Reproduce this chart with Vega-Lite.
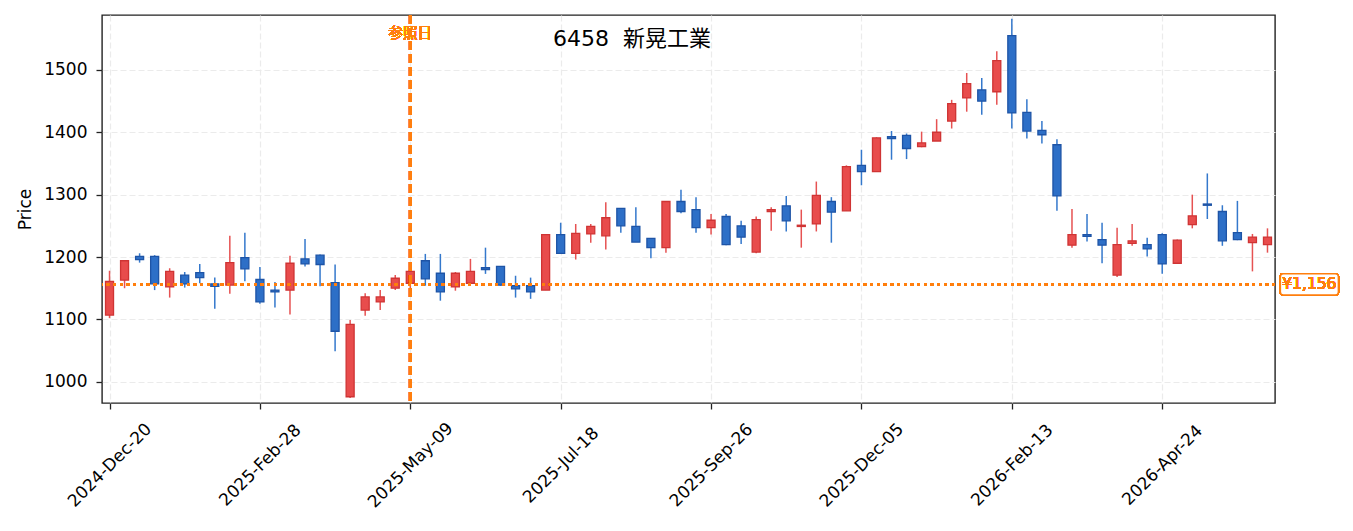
{
  "$schema": "https://vega.github.io/schema/vega-lite/v6.json",
  "width": 1173,
  "height": 388,
  "autosize": "none",
  "padding": {"left": 102, "top": 15, "right": 78, "bottom": 128},
  "background": "white",
  "config": {
    "font": "DejaVu Sans, Noto Sans CJK JP",
    "view": {"stroke": "#222222", "strokeWidth": 1.4},
    "axis": {
      "domain": false,
      "grid": true,
      "gridColor": "#ebebeb",
      "gridDash": [6, 3],
      "gridWidth": 1.2,
      "tickColor": "#222222",
      "tickSize": 6,
      "tickWidth": 1.3,
      "labelColor": "#000000",
      "labelFont": "DejaVu Sans, Noto Sans CJK JP",
      "labelFontSize": 17,
      "titleColor": "#000000",
      "titleFont": "DejaVu Sans, Noto Sans CJK JP",
      "titleFontSize": 17,
      "titleFontWeight": "normal"
    }
  },
  "title": {
    "text": "6458\u00a0\u00a0新晃工業",
    "anchor": "start",
    "frame": "group",
    "dx": 451,
    "dy": 22,
    "offset": -32,
    "baseline": "alphabetic",
    "font": "DejaVu Sans, Noto Sans CJK JP",
    "fontSize": 22,
    "fontWeight": "normal",
    "color": "#000000"
  },
  "data": {
    "values": [
      {"date": "2024-12-20", "open": 1107, "high": 1178, "low": 1102, "close": 1161},
      {"date": "2024-12-27", "open": 1163, "high": 1195, "low": 1150, "close": 1194},
      {"date": "2025-01-03", "open": 1201, "high": 1206, "low": 1191, "close": 1196},
      {"date": "2025-01-10", "open": 1201, "high": 1203, "low": 1147, "close": 1157},
      {"date": "2025-01-17", "open": 1152, "high": 1182, "low": 1135, "close": 1177},
      {"date": "2025-01-24", "open": 1171, "high": 1176, "low": 1151, "close": 1157},
      {"date": "2025-01-31", "open": 1175, "high": 1189, "low": 1158, "close": 1167},
      {"date": "2025-02-07", "open": 1157, "high": 1167, "low": 1117, "close": 1153},
      {"date": "2025-02-14", "open": 1155, "high": 1234, "low": 1141, "close": 1191},
      {"date": "2025-02-21", "open": 1199, "high": 1239, "low": 1161, "close": 1181},
      {"date": "2025-02-28", "open": 1164, "high": 1184, "low": 1125, "close": 1128},
      {"date": "2025-03-07", "open": 1147, "high": 1160, "low": 1119, "close": 1144},
      {"date": "2025-03-14", "open": 1147, "high": 1202, "low": 1108, "close": 1190},
      {"date": "2025-03-21", "open": 1197, "high": 1229, "low": 1185, "close": 1189},
      {"date": "2025-03-28", "open": 1203, "high": 1204, "low": 1153, "close": 1188},
      {"date": "2025-04-04", "open": 1159, "high": 1188, "low": 1049, "close": 1081},
      {"date": "2025-04-11", "open": 976, "high": 1099, "low": 974, "close": 1092},
      {"date": "2025-04-18", "open": 1115, "high": 1142, "low": 1106, "close": 1136},
      {"date": "2025-04-25", "open": 1128, "high": 1147, "low": 1115, "close": 1136},
      {"date": "2025-05-02", "open": 1150, "high": 1171, "low": 1147, "close": 1166},
      {"date": "2025-05-09", "open": 1158, "high": 1178, "low": 1150, "close": 1177},
      {"date": "2025-05-16", "open": 1194, "high": 1205, "low": 1154, "close": 1165},
      {"date": "2025-05-23", "open": 1174, "high": 1205, "low": 1130, "close": 1144},
      {"date": "2025-05-30", "open": 1152, "high": 1176, "low": 1146, "close": 1174},
      {"date": "2025-06-06", "open": 1158, "high": 1197, "low": 1158, "close": 1177},
      {"date": "2025-06-13", "open": 1183, "high": 1215, "low": 1173, "close": 1180},
      {"date": "2025-06-20", "open": 1185, "high": 1185, "low": 1154, "close": 1155},
      {"date": "2025-06-27", "open": 1154, "high": 1170, "low": 1135, "close": 1149},
      {"date": "2025-07-04", "open": 1154, "high": 1167, "low": 1133, "close": 1144},
      {"date": "2025-07-11", "open": 1147, "high": 1236, "low": 1147, "close": 1236},
      {"date": "2025-07-18", "open": 1236, "high": 1255, "low": 1205, "close": 1206},
      {"date": "2025-07-25", "open": 1206, "high": 1253, "low": 1196, "close": 1238},
      {"date": "2025-08-01", "open": 1237, "high": 1253, "low": 1223, "close": 1249},
      {"date": "2025-08-08", "open": 1234, "high": 1288, "low": 1212, "close": 1263},
      {"date": "2025-08-15", "open": 1278, "high": 1278, "low": 1239, "close": 1250},
      {"date": "2025-08-22", "open": 1249, "high": 1280, "low": 1224, "close": 1224},
      {"date": "2025-08-29", "open": 1230, "high": 1230, "low": 1198, "close": 1215},
      {"date": "2025-09-05", "open": 1215, "high": 1289, "low": 1207, "close": 1289},
      {"date": "2025-09-12", "open": 1289, "high": 1308, "low": 1270, "close": 1273},
      {"date": "2025-09-19", "open": 1276, "high": 1296, "low": 1239, "close": 1247},
      {"date": "2025-09-26", "open": 1247, "high": 1269, "low": 1236, "close": 1259},
      {"date": "2025-10-03", "open": 1265, "high": 1269, "low": 1219, "close": 1220},
      {"date": "2025-10-10", "open": 1250, "high": 1258, "low": 1221, "close": 1232},
      {"date": "2025-10-17", "open": 1208, "high": 1265, "low": 1206, "close": 1260},
      {"date": "2025-10-24", "open": 1273, "high": 1280, "low": 1242, "close": 1276},
      {"date": "2025-10-31", "open": 1282, "high": 1298, "low": 1241, "close": 1258},
      {"date": "2025-11-07", "open": 1249, "high": 1276, "low": 1215, "close": 1251},
      {"date": "2025-11-14", "open": 1253, "high": 1321, "low": 1241, "close": 1299},
      {"date": "2025-11-21", "open": 1289, "high": 1296, "low": 1223, "close": 1272},
      {"date": "2025-11-28", "open": 1274, "high": 1347, "low": 1274, "close": 1345},
      {"date": "2025-12-05", "open": 1347, "high": 1372, "low": 1315, "close": 1337},
      {"date": "2025-12-12", "open": 1337, "high": 1392, "low": 1337, "close": 1391},
      {"date": "2025-12-19", "open": 1393, "high": 1402, "low": 1356, "close": 1390},
      {"date": "2025-12-26", "open": 1395, "high": 1398, "low": 1357, "close": 1374},
      {"date": "2026-01-02", "open": 1377, "high": 1401, "low": 1376, "close": 1383},
      {"date": "2026-01-09", "open": 1386, "high": 1421, "low": 1386, "close": 1400},
      {"date": "2026-01-16", "open": 1418, "high": 1452, "low": 1406, "close": 1446},
      {"date": "2026-01-23", "open": 1455, "high": 1495, "low": 1433, "close": 1478},
      {"date": "2026-01-30", "open": 1468, "high": 1487, "low": 1428, "close": 1450},
      {"date": "2026-02-06", "open": 1465, "high": 1530, "low": 1444, "close": 1515},
      {"date": "2026-02-13", "open": 1555, "high": 1582, "low": 1406, "close": 1431},
      {"date": "2026-02-20", "open": 1432, "high": 1453, "low": 1390, "close": 1402},
      {"date": "2026-02-27", "open": 1403, "high": 1418, "low": 1382, "close": 1396},
      {"date": "2026-03-06", "open": 1380, "high": 1389, "low": 1274, "close": 1298},
      {"date": "2026-03-13", "open": 1219, "high": 1277, "low": 1215, "close": 1236},
      {"date": "2026-03-20", "open": 1236, "high": 1269, "low": 1225, "close": 1233},
      {"date": "2026-03-27", "open": 1228, "high": 1255, "low": 1190, "close": 1219},
      {"date": "2026-04-03", "open": 1171, "high": 1247, "low": 1168, "close": 1220},
      {"date": "2026-04-10", "open": 1222, "high": 1253, "low": 1218, "close": 1226},
      {"date": "2026-04-17", "open": 1220, "high": 1231, "low": 1201, "close": 1213},
      {"date": "2026-04-24", "open": 1236, "high": 1238, "low": 1173, "close": 1189},
      {"date": "2026-05-01", "open": 1190, "high": 1228, "low": 1190, "close": 1227},
      {"date": "2026-05-08", "open": 1252, "high": 1300, "low": 1246, "close": 1266},
      {"date": "2026-05-15", "open": 1285, "high": 1334, "low": 1261, "close": 1283},
      {"date": "2026-05-22", "open": 1273, "high": 1283, "low": 1218, "close": 1226},
      {"date": "2026-05-29", "open": 1239, "high": 1290, "low": 1227, "close": 1228},
      {"date": "2026-06-05", "open": 1223, "high": 1237, "low": 1177, "close": 1232},
      {"date": "2026-06-12", "open": 1220, "high": 1246, "low": 1207, "close": 1232}
    ]
  },
  "layer": [
    {
      "mark": {"type": "rule", "strokeWidth": 1.5},
      "encoding": {
        "x": {
          "field": "date",
          "type": "temporal",
          "title": null,
          "scale": {
            "type": "utc",
            "nice": false,
            "padding": 0,
            "domain": [
              {"year": 2024, "month": 12, "date": 16, "hours": 12, "utc": true},
              {"year": 2026, "month": 6, "date": 15, "hours": 12, "utc": true}
            ]
          },
          "axis": {
            "values": [
              {"year": 2024, "month": 12, "date": 20, "utc": true},
              {"year": 2025, "month": 2, "date": 28, "utc": true},
              {"year": 2025, "month": 5, "date": 9, "utc": true},
              {"year": 2025, "month": 7, "date": 18, "utc": true},
              {"year": 2025, "month": 9, "date": 26, "utc": true},
              {"year": 2025, "month": 12, "date": 5, "utc": true},
              {"year": 2026, "month": 2, "date": 13, "utc": true},
              {"year": 2026, "month": 4, "date": 24, "utc": true}
            ],
            "format": "%Y-%b-%d",
            "labelAngle": -45,
            "labelAlign": "center",
            "labelBaseline": "middle",
            "labelPadding": 56,
            "labelOverlap": false
          }
        },
        "y": {
          "field": "low",
          "type": "quantitative",
          "title": "Price",
          "scale": {"domain": [966, 1588], "nice": false, "zero": false, "padding": 0},
          "axis": {
            "values": [1000, 1100, 1200, 1300, 1400, 1500],
            "format": "d",
            "labelPadding": 9,
            "titlePadding": 9
          }
        },
        "y2": {"field": "high"},
        "color": {
          "condition": {"test": "datum.close >= datum.open", "value": "#e65252"},
          "value": "#3478cc"
        }
      }
    },
    {
      "mark": {"type": "bar", "size": 8, "strokeWidth": 1.3},
      "encoding": {
        "x": {"field": "date", "type": "temporal"},
        "y": {"field": "open", "type": "quantitative"},
        "y2": {"field": "close"},
        "fill": {
          "condition": {"test": "datum.close >= datum.open", "value": "#e84c4c"},
          "value": "#2d6fc7"
        },
        "stroke": {
          "condition": {"test": "datum.close >= datum.open", "value": "#cf3434"},
          "value": "#1e54a6"
        }
      }
    },
    {
      "mark": {"type": "rule", "color": "#ff7f0e", "strokeWidth": 2, "strokeDash": [2.5, 4.2]},
      "encoding": {"y": {"datum": 1156, "type": "quantitative"}}
    },
    {
      "mark": {"type": "rule", "color": "#ff7f0e", "strokeWidth": 2.6, "strokeDash": [9, 4]},
      "encoding": {"x": {"datum": {"year": 2025, "month": 5, "date": 9, "utc": true}, "type": "temporal"}}
    },
    {
      "mark": {"type": "text", "fill": "#ff7f0e", "fontWeight": "normal", "fontSize": 14.5, "baseline": "middle", "align": "center"},
      "encoding": {
        "x": {"datum": {"year": 2025, "month": 5, "date": 9, "utc": true}, "type": "temporal"},
        "y": {"datum": 1557, "type": "quantitative"},
        "text": {"value": "参照日"}
      }
    },
    {
      "mark": {"type": "rect", "fill": "white", "stroke": "#ff7f0e", "strokeWidth": 1.5, "cornerRadius": 3, "clip": false},
      "encoding": {
        "x": {"datum": {"year": 2026, "month": 6, "date": 18, "utc": true}, "type": "temporal"},
        "x2": {"datum": {"year": 2026, "month": 7, "date": 15, "utc": true}},
        "y": {"datum": 1173, "type": "quantitative"},
        "y2": {"datum": 1139}
      }
    },
    {
      "mark": {"type": "text", "fill": "#ff7f0e", "fontWeight": "normal", "fontSize": 15.5, "baseline": "middle", "align": "center"},
      "encoding": {
        "x": {"datum": {"year": 2026, "month": 7, "date": 1, "hours": 12, "utc": true}, "type": "temporal"},
        "y": {"datum": 1156, "type": "quantitative"},
        "text": {"value": "¥1,156"}
      }
    }
  ]
}
